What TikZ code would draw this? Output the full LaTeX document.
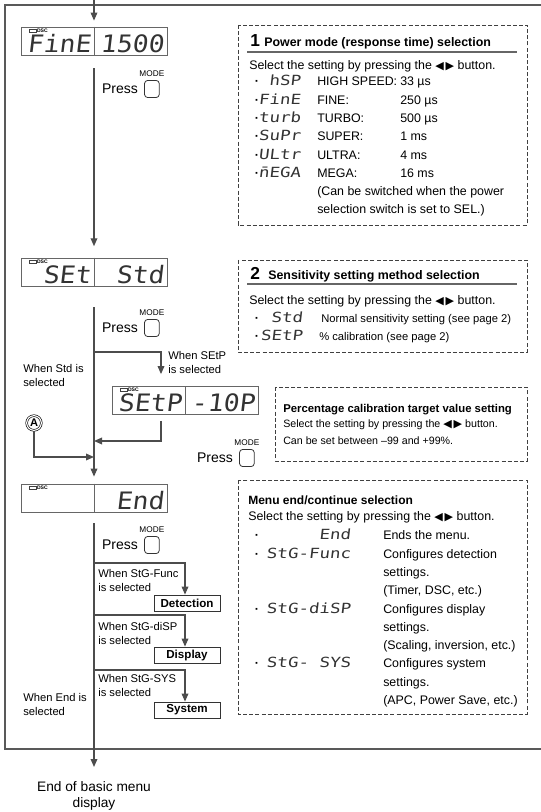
\documentclass[tikz,border=0pt]{standalone}
\usepackage{fontspec}
\setmainfont{Liberation Sans}
\newfontfamily\lcdfont{DejaVu Sans Mono}[FakeSlant=0.12,FakeStretch=1.1]
\newfontfamily\segfont{DejaVu Sans Mono}[FakeSlant=0.12,FakeStretch=1.25]
\newfontfamily\keyfont{DejaVu Sans}
\usetikzlibrary{arrows.meta, positioning}

\newcommand{\lrkeys}{{\keyfont\fontsize{8.3}{8}\selectfont ◀\,▶}}

\begin{document}
\begin{tikzpicture}[x=0.75pt, y=-0.75pt,
    conn/.style={draw=black!70, line width=0.9pt},
    arr/.style={conn, -{Triangle[width=5pt, length=6pt]}},
    outer/.style={draw=black!65, line width=1.1pt},
    lcd/.style={draw=black!60, line width=0.6pt, minimum width=109.5pt, minimum height=21pt, inner sep=0pt},
    lcdsep/.style={draw=black!60, line width=0.6pt},
    lcdtxt/.style={font=\lcdfont\fontsize{18}{19}\selectfont, text=black!80, inner sep=0pt, anchor=base east},
    led/.style={draw=black!75, line width=0.4pt, minimum width=5.2pt, minimum height=2.3pt, inner sep=0pt, anchor=north west},
    dsc/.style={font=\bfseries\fontsize{3.8}{4}\selectfont, inner sep=0pt},
    press/.style={font=\fontsize{10.5}{12}\selectfont, inner sep=0pt},
    modekey/.style={draw=black!80, line width=0.6pt, rounded corners=2.3pt, minimum width=11pt, minimum height=12.8pt, inner sep=0pt},
    modelbl/.style={font=\fontsize{6.2}{7}\selectfont, inner sep=0pt},
    cond/.style={font=\fontsize{8.4}{10.5}\selectfont, align=left, inner sep=0pt, anchor=north west},
    menu/.style={draw=black!80, line width=0.6pt, font=\bfseries\fontsize{8.7}{10}\selectfont, minimum width=49.5pt, minimum height=12pt, inner sep=0pt},
    circmark/.style={circle, draw=black, line width=0.45pt, double, double distance=0.9pt, minimum size=11pt, inner sep=0pt, font=\bfseries\fontsize{8.3}{8}\selectfont},
    infobox/.style={draw=black!75, line width=0.7pt, dash pattern=on 3pt off 1.6pt},
    titlerule/.style={draw=black!60, line width=1pt},
    boxnum/.style={font=\bfseries\fontsize{13}{13}\selectfont, inner sep=0pt, anchor=base west},
    boxtitle/.style={font=\bfseries\fontsize{9.3}{11}\selectfont, inner sep=0pt, anchor=base west},
    boxtext/.style={font=\fontsize{9.3}{11}\selectfont, inner sep=0pt, anchor=base west},
    smalltext/.style={font=\fontsize{8.4}{10}\selectfont, inner sep=0pt, anchor=base west},
    seg/.style={font=\segfont\fontsize{10.5}{11}\selectfont, text=black!80, inner sep=0pt, anchor=base east},
    dot/.style={font=\bfseries\fontsize{9.3}{11}\selectfont, inner sep=0pt, anchor=base},
]
    \useasboundingbox (0,0) rectangle (541,812);
    % frame, open to the right
    \draw[outer] (541,5) -- (5,5) -- (5,749) -- (541,749);

    % displays
    \node[lcd] (d1) at (94,41) {};
    \node[lcd] (d2) at (94,272) {};
    \node[lcd] (d3) at (185,400.5) {};
    \node[lcd] (d4) at (94,498) {};
    \draw[lcdsep] (d1.north) -- (d1.south);
    \draw[lcdsep] (d2.north) -- (d2.south);
    \draw[lcdsep] (d3.north) -- (d3.south);
    \draw[lcdsep] (d4.north) -- (d4.south);
    \node[led] (led1) at ([shift={(8,2.5)}]d1.north west) {};
    \node[dsc, right=0.5pt of led1] (dsc1) {DSC};
    \node[led] (led2) at ([shift={(8,2.5)}]d2.north west) {};
    \node[dsc, right=0.5pt of led2] (dsc2) {DSC};
    \node[led] (led3) at ([shift={(8,2)}]d3.north west) {};
    \node[dsc, right=0.5pt of led3] (dsc3) {DSC};
    \node[led] (led4) at ([shift={(8,2.5)}]d4.north west) {};
    \node[dsc, right=0.5pt of led4] (dsc4) {DSC};
    \node[lcdtxt] (t1a) at (91,52.5) {FinE};
    \node[lcdtxt] (t1b) at (164,52.5) {1500};
    \node[lcdtxt] (t2a) at (91,283.5) {SEt};
    \node[lcdtxt] (t2b) at (164,283.5) {Std};
    \node[lcdtxt] (t3a) at (182,411.5) {SEtP};
    \node[lcdtxt] (t3b) at (255,411.5) {-10P};
    \node[lcdtxt] (t4b) at (164,509.5) {End};

    % MODE key presses
    \node[press] (pr1) at (120,89) {Press};
    \node[modekey, right=4.5pt of pr1] (key1) {};
    \node[modelbl, above=2.5pt of key1] (md1) {MODE};
    \node[press] (pr2) at (120,328) {Press};
    \node[modekey, right=4.5pt of pr2] (key2) {};
    \node[modelbl, above=2.5pt of key2] (md2) {MODE};
    \node[press] (pr3) at (215,458) {Press};
    \node[modekey, right=4.5pt of pr3] (key3) {};
    \node[modelbl, above=2.5pt of key3] (md3) {MODE};
    \node[press] (pr4) at (120,545) {Press};
    \node[modekey, right=4.5pt of pr4] (key4) {};
    \node[modelbl, above=2.5pt of key4] (md4) {MODE};

    % main flow
    \coordinate (in) at (94,0);
    \draw[arr, shorten >=4.5pt] (in) -- (d1.north);
    \draw[arr, shorten <=9.75pt, shorten >=8.5pt] (d1.south) -- (d2.north);
    \draw[arr, shorten <=15.75pt, shorten >=5.25pt] (d2.south) -- (d4.north);
    \coordinate (b1) at (94,352);
    \coordinate (b1e) at (161,352);
    \draw[arr, shorten >=9pt] (b1) -- (b1e) -- (b1e |- d3.north);
    \coordinate (j1) at (94,441);
    \draw[arr, shorten <=4.5pt] (d3.south -| b1e) |- (j1);
    \node[circmark] (A) at (34,423) {A};
    \coordinate (j2) at (94,457);
    \draw[arr] (A) |- (j2);
    \node[cond] (c1) at (23,364) {When Std is\\selected};
    \node[cond] (c2) at (168,351) {When SEtP\\is selected};

    \coordinate (out) at (94,767);
    \draw[arr, shorten <=8.25pt] (d4.south) -- (out);
    \node[font=\fontsize{10.3}{12}\selectfont, align=center, anchor=north, inner sep=0pt] (fin) at (94,781) {End of basic menu\\display};

    % branches after End
    \coordinate (b2) at (94,563);
    \coordinate (b2e) at (185,563);
    \node[menu] (det) at (187,603) {Detection};
    \draw[arr] (b2) -- (b2e) -- (b2e |- det.north);
    \node[cond] (c3) at (98,569.5) {When StG-Func\\is selected};
    \coordinate (b3) at (94,615);
    \coordinate (b3e) at (185,615);
    \node[menu] (dsp) at (187,655) {Display};
    \draw[arr] (b3) -- (b3e) -- (b3e |- dsp.north);
    \node[cond] (c4) at (98,622) {When StG-diSP\\is selected};
    \coordinate (b4) at (94,670);
    \coordinate (b4e) at (185,670);
    \node[menu] (sys) at (187,710) {System};
    \draw[arr] (b4) -- (b4e) -- (b4e |- sys.north);
    \node[cond] (c5) at (98,674.5) {When StG-SYS\\is selected};
    \node[cond] (c6) at (23,693.5) {When End is\\selected};

    % box 1
    \draw[infobox] (238,25) rectangle (527,225);
    \node[boxnum] (n1) at (250,47) {1};
    \node[boxtitle] (h1) at (264,47) {Power mode (response time) selection};
    \draw[titlerule] (247,52) -- (517,52);
    \node[boxtext] (s1) at (249,69.5) {Select the setting by pressing the \lrkeys{} button.};
    \node[dot] (p11) at (257,86) {·};
    \node[seg] (g11) at (301,86) {hSP};
    \node[boxtext] (m11) at (317,86) {HIGH SPEED:};
    \node[boxtext] (v11) at (400,86) {33 µs};
    \node[dot] (p12) at (257,104.3) {·};
    \node[seg] (g12) at (301,104.3) {FinE};
    \node[boxtext] (m12) at (317,104.3) {FINE:};
    \node[boxtext] (v12) at (400,104.3) {250 µs};
    \node[dot] (p13) at (257,122.6) {·};
    \node[seg] (g13) at (301,122.6) {turb};
    \node[boxtext] (m13) at (317,122.6) {TURBO:};
    \node[boxtext] (v13) at (400,122.6) {500 µs};
    \node[dot] (p14) at (257,141) {·};
    \node[seg] (g14) at (301,141) {SuPr};
    \node[boxtext] (m14) at (317,141) {SUPER:};
    \node[boxtext] (v14) at (400,141) {1 ms};
    \node[dot] (p15) at (257,159.2) {·};
    \node[seg] (g15) at (301,159.2) {ULtr};
    \node[boxtext] (m15) at (317,159.2) {ULTRA:};
    \node[boxtext] (v15) at (400,159.2) {4 ms};
    \node[dot] (p16) at (257,177.5) {·};
    \node[seg] (g16) at (301,177.5) {{\=n}EGA};
    \node[boxtext] (m16) at (317,177.5) {MEGA:};
    \node[boxtext] (v16) at (400,177.5) {16 ms};
    \node[boxtext] (x11) at (317,195.8) {(Can be switched when the power};
    \node[boxtext] (x12) at (317,214) {selection switch is set to SEL.)};

    % box 2
    \draw[infobox] (238,260) rectangle (527,352);
    \node[boxnum] (n2) at (250,279.5) {2};
    \node[boxtitle] (h2) at (268,279.5) {Sensitivity setting method selection};
    \draw[titlerule] (247,284) -- (517,284);
    \node[boxtext] (s2) at (249,304.5) {Select the setting by pressing the \lrkeys{} button.};
    \node[dot] (p21) at (257,322.5) {·};
    \node[seg] (g21) at (303,322.5) {Std};
    \node[smalltext] (m21) at (321,322) {Normal sensitivity setting (see page 2)};
    \node[dot] (p22) at (257,340.5) {·};
    \node[seg] (g22) at (303,340.5) {SEtP};
    \node[smalltext] (m22) at (319,340) {\% calibration (see page 2)};

    % box 3
    \draw[infobox] (275,387) rectangle (527,461);
    \node[boxtitle, font=\bfseries\fontsize{8.5}{10}\selectfont] (h3) at (283,412) {Percentage calibration target value setting};
    \node[boxtext, font=\fontsize{8}{10}\selectfont] (s3) at (283,427.5) {Select the setting by pressing the \lrkeys{} button.};
    \node[boxtext, font=\fontsize{8}{10}\selectfont] (s3b) at (283,444) {Can be set between –99 and +99\%.};

    % box 4
    \draw[infobox] (238,480) rectangle (527,714);
    \node[boxtitle, font=\bfseries\fontsize{9}{11}\selectfont] (h4) at (248,504.5) {Menu end/continue selection};
    \node[boxtext] (s4) at (248,520.5) {Select the setting by pressing the \lrkeys{} button.};
    \node[dot] (p41) at (257,539.5) {·};
    \node[seg] (g41) at (351,539.5) {End};
    \node[boxtext] (m41) at (383,539.5) {Ends the menu.};
    \node[dot] (p42) at (257,558.5) {·};
    \node[seg] (g42) at (351,558.5) {StG-Func};
    \node[boxtext] (m42) at (383,558.5) {Configures detection};
    \node[boxtext] (m43) at (383,576.5) {settings.};
    \node[boxtext] (m44) at (383,594.5) {(Timer, DSC, etc.)};
    \node[dot] (p45) at (257,613.5) {·};
    \node[seg] (g45) at (351,613.5) {StG-diSP};
    \node[boxtext] (m45) at (383,613.5) {Configures display};
    \node[boxtext] (m46) at (383,631.5) {settings.};
    \node[boxtext] (m47) at (383,649.5) {(Scaling, inversion, etc.)};
    \node[dot] (p48) at (257,667.5) {·};
    \node[seg] (g48) at (351,667.5) {StG- SYS};
    \node[boxtext] (m48) at (383,667.5) {Configures system};
    \node[boxtext] (m49) at (383,686.5) {settings.};
    \node[boxtext] (m410) at (383,704.5) {(APC, Power Save, etc.)};
\end{tikzpicture}
\end{document}
